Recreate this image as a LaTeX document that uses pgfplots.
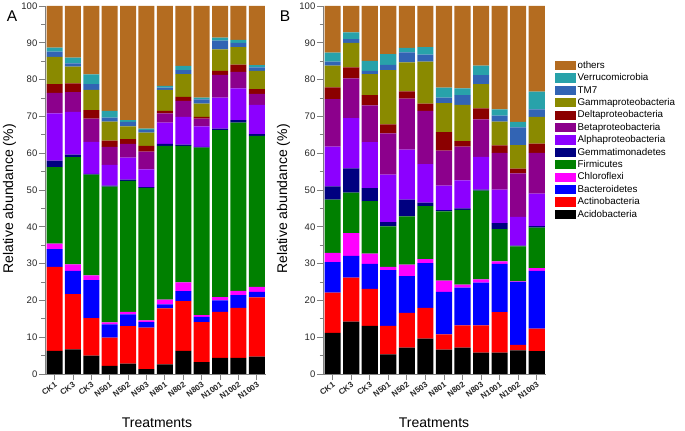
\documentclass[border=0pt]{standalone}
\usepackage{pgfplots}
\pgfplotsset{compat=1.18}
\usepackage{pgfplotstable}
\usepackage{fontspec}
\setmainfont{Liberation Sans}

\definecolor{cAcido}{RGB}{0,0,0}
\definecolor{cActino}{RGB}{255,0,0}
\definecolor{cBact}{RGB}{0,0,255}
\definecolor{cChloro}{RGB}{255,0,255}
\definecolor{cFirm}{RGB}{0,128,0}
\definecolor{cGemm}{RGB}{0,0,128}
\definecolor{cAlpha}{RGB}{140,0,255}
\definecolor{cBeta}{RGB}{140,0,140}
\definecolor{cDelta}{RGB}{139,0,0}
\definecolor{cGamma}{RGB}{138,138,0}
\definecolor{cTM}{RGB}{50,100,180}
\definecolor{cVerr}{RGB}{40,162,170}
\definecolor{cOthers}{RGB}{180,108,32}
\definecolor{axisgray}{RGB}{128,128,128}

% panel A
\pgfplotstableread{
x Acido Actino Bact Chloro Firm Gemm Alpha Beta Delta Gamma TM Verr Others
0  6.3 22.8  4.8 1.5 20.8 1.8 12.8  5.6 2.4 7.4 1.4 1.1 11.3
1  6.7 15.0  6.3 1.8 29.1 0.7 11.6  5.4 2.4 4.5 0.9 1.6 14.0
2  5.0 10.2 10.3 1.3 27.4 0.2  8.7  6.3 2.3 5.5 1.6 2.6 18.6
3  2.2  7.7  3.6 0.5 36.9 0.3  5.6  4.9 1.7 5.2 1.1 1.8 28.5
4  2.8 10.2  3.2 0.7 35.6 0.3  6.0  3.7 1.3 3.5 1.2 0.5 31.0
5  1.3 11.3  1.5 0.5 36.0 0.2  4.8  4.8 1.6 3.6 0.7 0.4 33.3
6  2.6 15.2  1.1 1.3 41.8 0.5  5.8  2.5 0.7 5.7 0.6 0.5 21.7
7  6.3 13.5  2.7 2.4 37.1 0.3  7.6  4.3 1.1 6.2 1.1 1.1 16.3
8  3.2 10.9  1.4 0.5 45.5 0.2  5.6  2.1 0.5 3.6 1.1 0.5 24.9
9  4.4 12.5  3.1 0.9 45.4 0.4  8.4  6.2 1.1 5.8 2.4 0.8  8.6
10 4.4 13.6  3.4 1.2 45.7 0.7  8.6  4.5 2.0 4.7 1.2 0.8  9.2
11 4.7 16.1  1.5 1.4 41.0 0.5  7.9  3.0 1.3 5.0 0.9 0.6 16.1
}\tabA

% panel B
\pgfplotstableread{
x Acido Actino Bact Chloro Firm Gemm Alpha Beta Delta Gamma TM Verr Others
0  11.2 10.9  8.3 2.5 14.5 3.6 10.8 12.9 3.2  5.9 1.1 2.4 12.7
1  14.2 12.0  5.9 6.2 11.0 6.6 13.6 10.8 3.0  6.7 1.0 1.8  7.2
2  13.1 10.0  6.8 2.8 14.3 3.5 12.5 10.0 2.8  5.7 0.9 2.7 14.9
3   5.3  7.8 15.1 0.9 11.0 1.2 12.9 11.2 2.4 14.8 1.4 2.9 13.1
4   7.2  9.4 10.0 3.1 13.1 4.6 13.6 13.8 2.0  7.9 2.7 1.2 11.4
5   9.6  8.4 12.1 1.1 14.4 1.0 10.4 14.5 2.0 11.4 1.9 2.0 11.2
6   6.6  4.2 11.5 3.1 18.8 0.3  6.7  9.5 5.0  7.9 1.5 2.7 22.2
7   7.2  6.0 10.3 0.8 20.3 0.4  7.6  9.2 1.5  9.8 2.7 1.8 22.4
8   5.8  7.4 11.6 0.9 24.1 0.3  8.9 10.2 3.0  6.6 2.4 2.6 16.2
9   5.8 11.0 13.1 0.7  8.8 1.6  9.1 10.0 2.0  6.5 1.6 1.7 28.1
10  6.4  1.5 17.1 0.2  9.5 0.2  7.8 11.8 1.3  6.4 4.8 1.5 31.5
11  6.2  6.1 15.7 0.8 11.0 0.4  8.8 11.1 2.5  7.3 2.0 4.8 23.3
}\tabB

\newcommand{\stackbars}[1]{%
  \addplot[fill=cAcido]  table[x=x,y=Acido]{#1};
  \addplot[fill=cActino] table[x=x,y=Actino]{#1};
  \addplot[fill=cBact]   table[x=x,y=Bact]{#1};
  \addplot[fill=cChloro] table[x=x,y=Chloro]{#1};
  \addplot[fill=cFirm]   table[x=x,y=Firm]{#1};
  \addplot[fill=cGemm]   table[x=x,y=Gemm]{#1};
  \addplot[fill=cAlpha]  table[x=x,y=Alpha]{#1};
  \addplot[fill=cBeta]   table[x=x,y=Beta]{#1};
  \addplot[fill=cDelta]  table[x=x,y=Delta]{#1};
  \addplot[fill=cGamma]  table[x=x,y=Gamma]{#1};
  \addplot[fill=cTM]     table[x=x,y=TM]{#1};
  \addplot[fill=cVerr]   table[x=x,y=Verr]{#1};
  \addplot[fill=cOthers] table[x=x,y=Others]{#1};
}

\pgfplotsset{
  panel/.style={
    scale only axis,
    height=368bp,
    ybar stacked,
    bar width=0.87,
    every axis plot/.append style={draw=none},
    xmin=-0.52, xmax=11.5,
    ymin=0, ymax=100,
    ytick={0,10,...,100},
    minor y tick num=1,
    xtick={0,...,11},
    xticklabels={CK1,CK3,CK3,N501,N502,N503,N801,N802,N803,N1001,N1002,N1003},
    axis x line*=bottom,
    axis y line*=left,
    axis line style={-, draw=axisgray, line width=0.8bp},
    tick style={draw=axisgray, line width=0.8bp},
    tick align=outside,
    major tick length=6bp,
    minor tick length=3.5bp,
    /pgf/number format/assume math mode=true,
    yticklabel style={font=\fontsize{9.5bp}{11bp}\selectfont, text=black!85, inner sep=1.5bp},
    xticklabel style={font=\bfseries\fontsize{8bp}{9bp}\selectfont, text=black!85,
      rotate=35, anchor=north east, inner sep=1bp},
  },
}

\begin{document}
\begin{tikzpicture}
\path[use as bounding box] (0,0) rectangle (685bp,431bp);

\begin{axis}[panel, width=221bp, at={(45bp,57bp)}, anchor=south west]
  \stackbars{\tabA}
\end{axis}

\begin{axis}[panel, width=223bp, at={(323bp,57bp)}, anchor=south west,
    reverse legend,
    legend cell align=left,
    legend style={at={(1.04,0.855)}, anchor=north west, draw=none, fill=none,
      inner sep=0pt, row sep=0.2bp,
      font=\fontsize{9.8bp}{11bp}\selectfont,
      nodes={inner sep=1.5bp, text height=7.2bp, text depth=2bp}},
    /tikz/every even column/.append style={column sep=2.5bp},
    legend image code/.code={\fill[#1] (0bp,-4.6bp) rectangle (21bp,4.6bp);},
    legend entries={Acidobacteria,Actinobacteria,Bacteroidetes,Chloroflexi,Firmicutes,Gemmatimonadetes,Alphaproteobacteria,Betaproteobacteria,Deltaproteobacteria,Gammaproteobacteria,TM7,Verrucomicrobia,others}]
  \stackbars{\tabB}
\end{axis}

% axis titles and panel letters
\node[rotate=90, font=\fontsize{14bp}{16bp}\selectfont] at (9.5bp,232bp) {Relative abundance (\%)};
\node[rotate=90, font=\fontsize{14bp}{16bp}\selectfont] at (283.5bp,232bp) {Relative abundance (\%)};
\node[font=\fontsize{14bp}{16bp}\selectfont] at (157bp,8.5bp) {Treatments};
\node[font=\fontsize{14bp}{16bp}\selectfont] at (434bp,8.5bp) {Treatments};
\node[font=\fontsize{15.5bp}{17bp}\selectfont] at (12bp,415bp) {A};
\node[font=\fontsize{15.5bp}{17bp}\selectfont] at (285bp,415bp) {B};
\end{tikzpicture}
\end{document}
